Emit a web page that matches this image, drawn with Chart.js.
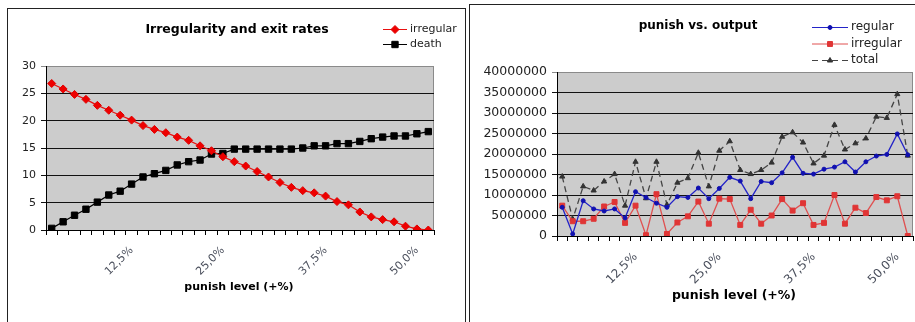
<!DOCTYPE html>
<html>
<head>
<meta charset="utf-8">
<script src="https://cdn.jsdelivr.net/npm/chart.js@4/dist/chart.umd.min.js"></script>
<style>
body { margin:0; background:#fff; width:915px; height:322px; overflow:hidden; position:relative; }
.box { position:absolute; border:1px solid #222; background:#fff; }
#box1 { left:7px; top:8px; width:457px; height:330px; }
#box2 { left:469px; top:4px; width:458px; height:330px; }
canvas { display:block; }
</style>
</head>
<body>
<div class="box" id="box1"><canvas id="exitChart" width="457" height="330"></canvas></div>
<div class="box" id="box2"><canvas id="outChart" width="458" height="330"></canvas></div>
<script>
// punish level categories (34 runs)
var levels = ["1,6%","3,1%","4,7%","6,3%","7,8%","9,4%","10,9%","12,5%","14,1%","15,6%","17,2%","18,8%",
  "20,3%","21,9%","23,4%","25,0%","26,4%","27,8%","29,2%","30,6%","31,9%","33,3%","34,7%","36,1%",
  "37,5%","39,1%","40,6%","42,2%","43,8%","45,3%","46,9%","48,4%","50,0%","51,6%"];
// labels that are printed on the x axis
var shownTicks = ["12,5%", "25,0%", "37,5%", "50,0%"];

// left chart: irregularity and exit rates
var exitIrregular = [26.8, 25.8, 24.8, 23.9, 22.8, 21.9, 21.0, 20.1, 19.1, 18.4, 17.8, 17.0,
  16.4, 15.4, 14.5, 13.4, 12.5, 11.7, 10.7, 9.7, 8.7, 7.8, 7.2, 6.8,
  6.2, 5.2, 4.6, 3.3, 2.4, 1.9, 1.5, 0.7, 0.2, 0.0];
var exitDeath = [0.3, 1.5, 2.7, 3.8, 5.1, 6.4, 7.1, 8.4, 9.7, 10.3, 10.9, 11.9,
  12.5, 12.8, 13.9, 14.0, 14.8, 14.8, 14.8, 14.8, 14.8, 14.8, 15.0, 15.4,
  15.4, 15.8, 15.8, 16.2, 16.7, 17.0, 17.2, 17.2, 17.6, 18.0];
var exitTicks = [0, 5, 10, 15, 20, 25, 30];

// right chart: punish vs. output
var outRegular = [7000000, 500000, 8600000, 6600000, 6100000, 6600000, 4400000, 10800000, 9400000, 8000000, 7000000, 9600000,
  9400000, 11700000, 9100000, 11600000, 14300000, 13400000, 9100000, 13300000, 13000000, 15400000, 19200000, 15300000,
  15100000, 16300000, 16800000, 18100000, 15600000, 18100000, 19500000, 19900000, 24900000, 19800000];
var outIrregular = [7400000, 3600000, 3600000, 4200000, 7200000, 8300000, 3200000, 7400000, 200000, 10200000, 500000, 3300000,
  4800000, 8400000, 3000000, 9100000, 9000000, 2700000, 6400000, 3000000, 5000000, 9000000, 6200000, 8000000,
  2700000, 3200000, 10000000, 3000000, 6900000, 5600000, 9500000, 8700000, 9700000, 0];
var outTotal = [14500000, 4100000, 12100000, 11100000, 13300000, 15100000, 7400000, 18100000, 9200000, 18100000, 7600000, 13000000,
  14100000, 20300000, 12100000, 20800000, 23100000, 16100000, 15100000, 16100000, 17900000, 24200000, 25300000, 22800000,
  17700000, 19600000, 27100000, 21100000, 22600000, 23800000, 29100000, 28800000, 34600000, 19600000];
var outTicks = [0, 5000000, 10000000, 15000000, 20000000, 25000000, 30000000, 35000000, 40000000];

var FONT = "'DejaVu Sans', Verdana, sans-serif";

// 背景・タイトル・凡例・軸タイトルを描くプラグイン
var overlay = {
  id: 'overlay',
  beforeDraw: function(chart, args, o) {
    var a = chart.chartArea, c = chart.ctx;
    c.save();
    c.fillStyle = '#cccccc';
    c.fillRect(a.left, a.top, a.right - a.left, a.bottom - a.top);
    c.strokeStyle = '#8a8a8a';
    c.lineWidth = 1;
    c.strokeRect(a.left + 0.5, a.top + 0.5, a.right - a.left - 1, a.bottom - a.top);
    c.restore();
  },
  afterDraw: function(chart, args, o) {
    var c = chart.ctx;
    c.save();
    c.fillStyle = '#000';
    c.textAlign = 'center';
    c.textBaseline = 'middle';
    c.font = o.titleFont;
    c.fillText(o.title, o.titleX, o.titleY);
    c.font = o.axisFont;
    c.fillText(o.axisTitle, o.axisX, o.axisY);
    chart.data.datasets.forEach(function(ds, i) {
      var y = o.legY + i * o.legDy;
      c.strokeStyle = ds.borderColor;
      c.lineWidth = 1;
      c.setLineDash(ds.borderDash || []);
      c.beginPath(); c.moveTo(o.legX1, y + 0.5); c.lineTo(o.legX2, y + 0.5); c.stroke();
      c.setLineDash([]);
      c.fillStyle = ds.pointBackgroundColor;
      c.strokeStyle = ds.pointBorderColor;
      Chart.helpers.drawPoint(c, {pointStyle: ds.pointStyle, radius: ds.pointRadius, borderWidth: 1, rotation: 0},
        (o.legX1 + o.legX2) / 2, y + 0.5);
      c.fillStyle = '#222';
      c.textAlign = 'left';
      c.font = o.legFont;
      c.fillText(ds.label, o.legX2 + 3, y);
    });
    c.restore();
  }
};

function makeOptions(yTicks, yWidth, pad, xHeight, yFont, xFont, overlayOpts) {
  return {
    responsive: false,
    animation: false,
    layout: { padding: pad },
    plugins: { legend: { display: false }, tooltip: { enabled: false }, overlay: overlayOpts },
    scales: {
      x: {
        offset: true,
        afterFit: function(s) { s.height = xHeight; },
        grid: { offset: true, drawOnChartArea: false, drawTicks: true, tickLength: 5, color: '#000' },
        border: { color: '#000', width: 1 },
        ticks: {
          autoSkip: false, minRotation: 45, maxRotation: 45, padding: 9,
          color: '#4a4f5c', font: { family: FONT, size: xFont },
          callback: function(v, i) { var l = this.getLabelForValue(v); return shownTicks.indexOf(l) >= 0 ? l : ''; }
        }
      },
      y: {
        min: yTicks[0], max: yTicks[yTicks.length - 1],
        afterFit: function(s) { s.width = yWidth; },
        afterBuildTicks: function(s) { s.ticks = yTicks.map(function(v) { return { value: v }; }); },
        grid: {
          tickLength: 5,
          color: function(ctx) { return ctx.tick && ctx.tick.value === yTicks[yTicks.length - 1] ? '#8a8a8a' : '#111'; }
        },
        border: { color: '#000', width: 1 },
        ticks: { padding: 5, color: '#222', font: { family: FONT, size: yFont }, callback: function(v) { return String(v); } }
      }
    }
  };
}

new Chart(document.getElementById('exitChart'), {
  type: 'line',
  data: {
    labels: levels,
    datasets: [{
      label: 'irregular', data: exitIrregular,
      borderColor: '#e81010', borderWidth: 1.2,
      pointStyle: 'rectRot', pointRadius: 4, pointBackgroundColor: '#ee0000', pointBorderColor: '#e00000', pointBorderWidth: 1
    }, {
      label: 'death', data: exitDeath,
      borderColor: '#000', borderWidth: 1.2,
      pointStyle: 'rect', pointRadius: 4.5, pointBackgroundColor: '#000', pointBorderColor: '#000', pointBorderWidth: 1
    }]
  },
  options: makeOptions(exitTicks, 38, { left: 0, top: 57, right: 31, bottom: 49 }, 60, 11, 11, {
    title: 'Irregularity and exit rates', titleFont: 'bold 12.5px ' + FONT, titleX: 229, titleY: 21,
    axisTitle: 'punish level (+%)', axisFont: 'bold 11px ' + FONT, axisX: 231, axisY: 278,
    legX1: 375, legX2: 399, legY: 20, legDy: 15, legFont: '11px ' + FONT
  }),
  plugins: [overlay]
});

new Chart(document.getElementById('outChart'), {
  type: 'line',
  data: {
    labels: levels,
    datasets: [{
      label: 'regular', data: outRegular,
      borderColor: '#2323c8', borderWidth: 1.3,
      pointStyle: 'circle', pointRadius: 2, pointBackgroundColor: '#1010b0', pointBorderColor: '#1010b0', pointBorderWidth: 1
    }, {
      label: 'irregular', data: outIrregular,
      borderColor: '#e05050', borderWidth: 1.3,
      pointStyle: 'rect', pointRadius: 3.5, pointBackgroundColor: '#e03535', pointBorderColor: '#e03535', pointBorderWidth: 1
    }, {
      label: 'total', data: outTotal,
      borderColor: '#444', borderWidth: 1.3, borderDash: [6, 4],
      pointStyle: 'triangle', pointRadius: 3, pointBackgroundColor: '#333', pointBorderColor: '#333', pointBorderWidth: 1
    }]
  },
  options: makeOptions(outTicks, 87, { left: 0, top: 67, right: 15, bottom: 39 }, 60, 12.5, 12, {
    title: 'punish vs. output', titleFont: 'bold 12px ' + FONT, titleX: 228, titleY: 21,
    axisTitle: 'punish level (+%)', axisFont: 'bold 12.5px ' + FONT, axisX: 264, axisY: 291,
    legX1: 342, legX2: 378, legY: 22, legDy: 16.5, legFont: '12px ' + FONT
  }),
  plugins: [overlay]
});
</script>
</body>
</html>
